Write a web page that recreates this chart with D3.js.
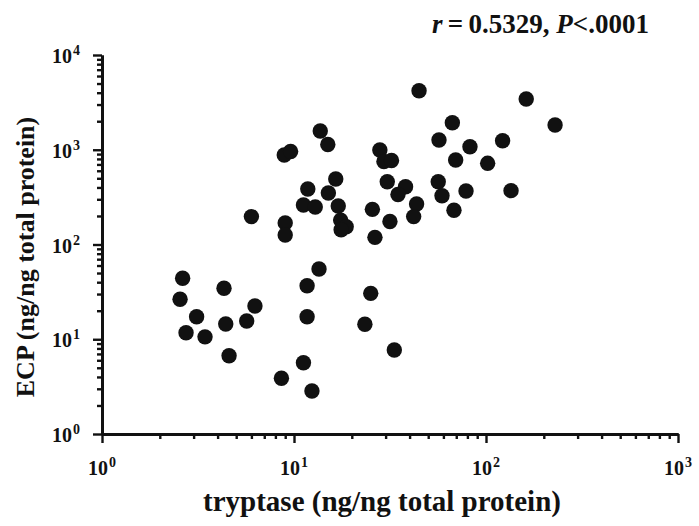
<!DOCTYPE html>
<meta charset="utf-8">
<script src="https://d3js.org/d3.v7.min.js"></script>
<style>
  body { margin: 0; background: #fff; }
  text { font-family: "Liberation Serif", "Times New Roman", serif; font-weight: bold; fill: #111; }
</style>
<div id="my_dataviz"></div>
<script>

// tryptase (x) and ECP (y), ng/ng total protein
var tryptase = [13.7, 15.0, 8.9, 9.6, 28.0, 29.4, 32.2, 16.5, 11.8, 15.1,
                30.6, 38.1, 34.8, 11.2, 12.9, 17.0, 25.6, 43.5, 42.0, 9.0,
                9.0, 17.5, 18.7, 17.6, 31.6, 26.4, 6.0, 44.8, 162, 229,
                66.8, 56.9, 82.5, 122, 69.5, 102, 56.4, 59.0, 78.7, 135,
                68.1, 2.63, 2.55, 3.11, 2.74, 3.44, 4.32, 4.41, 4.59, 5.67,
                6.26, 13.5, 11.7, 11.7, 11.2, 8.6, 12.4, 25.1, 23.4, 33.3];
var ecp = [1578, 1136, 880, 958, 994, 751, 770, 491, 385, 350,
           460, 407, 337, 261, 249, 255, 235, 268, 197, 169,
           126, 181, 154, 143, 175, 119, 197, 4200, 3430, 1825,
           1930, 1267, 1077, 1246, 780, 719, 460, 327, 367, 370,
           230, 44.0, 26.4, 17.3, 11.7, 10.6, 34.5, 14.5, 6.7, 15.6,
           22.4, 55.1, 36.7, 17.3, 5.65, 3.87, 2.84, 30.5, 14.4, 7.7];

var xMajors = [1, 10, 100, 1000];
var yMajors = [1, 10, 100, 1000, 10000];
var xTitle = "tryptase (ng/ng total protein)";
var yTitle = "ECP (ng/ng total protein)";

var width = 699, height = 526;

var svg = d3.select("#my_dataviz")
  .append("svg")
    .attr("width", width)
    .attr("height", height);

var x = d3.scaleLog().domain([1, 1000]).range([102, 678]);
var y = d3.scaleLog().domain([1, 10000]).range([434, 55]);

function minors(majors) {
  var out = [];
  majors.slice(0, -1).forEach(function (m) {
    for (var k = 2; k <= 9; k++) out.push(m * k);
  });
  return out;
}

// X axis: minor and major ticks in separate groups
svg.append("g").attr("transform", "translate(0,434)")
  .call(d3.axisBottom(x).tickValues(minors(xMajors)).tickSize(5).tickSizeOuter(0).tickFormat(""));
svg.append("g").attr("transform", "translate(0,434)")
  .call(d3.axisBottom(x).tickValues(xMajors).tickSize(9).tickSizeOuter(0).tickFormat(""));

// Y axis
svg.append("g").attr("transform", "translate(102,0)")
  .call(d3.axisLeft(y).tickValues(minors(yMajors)).tickSize(5).tickSizeOuter(0).tickFormat(""));
svg.append("g").attr("transform", "translate(102,0)")
  .call(d3.axisLeft(y).tickValues(yMajors).tickSize(9).tickSizeOuter(0).tickFormat(""));

svg.selectAll(".domain").attr("stroke", "#111").attr("stroke-width", 3);
svg.selectAll(".tick line").attr("stroke", "#111").attr("stroke-width", 2.4);

// power-of-ten labels
function powLabel(sel, v) {
  sel.append("tspan").text("10");
  sel.append("tspan").attr("dx", 1).attr("dy", -8).attr("font-size", 14).text(Math.round(Math.log10(v)));
}

xMajors.forEach(function (v) {
  var t = svg.append("text")
    .attr("x", x(v))
    .attr("y", 475)
    .attr("text-anchor", "middle")
    .attr("font-size", 20);
  powLabel(t, v);
});

yMajors.forEach(function (v) {
  var t = svg.append("text")
    .attr("x", 80)
    .attr("y", y(v) + 8)
    .attr("text-anchor", "end")
    .attr("font-size", 20);
  powLabel(t, v);
});

// axis titles
svg.append("text")
  .attr("x", 382)
  .attr("y", 511)
  .attr("text-anchor", "middle")
  .attr("font-size", 29)
  .text(xTitle);

svg.append("text")
  .attr("transform", "translate(34,257) rotate(-90)")
  .attr("text-anchor", "middle")
  .attr("font-size", 26)
  .text(yTitle);

// correlation note
var note = svg.append("text")
  .attr("x", 649)
  .attr("y", 33)
  .attr("text-anchor", "end")
  .attr("font-size", 27);
note.append("tspan").attr("font-style", "italic").text("r");
note.append("tspan").text("\u2009=\u20090.5329, ");
note.append("tspan").attr("font-style", "italic").text("P");
note.append("tspan").text("<.0001");

// dots
svg.append("g")
  .selectAll("circle")
  .data(tryptase)
  .enter()
  .append("circle")
    .attr("cx", function (d) { return x(d); })
    .attr("cy", function (d, i) { return y(ecp[i]); })
    .attr("r", 7.7)
    .style("fill", "#111");

</script>
